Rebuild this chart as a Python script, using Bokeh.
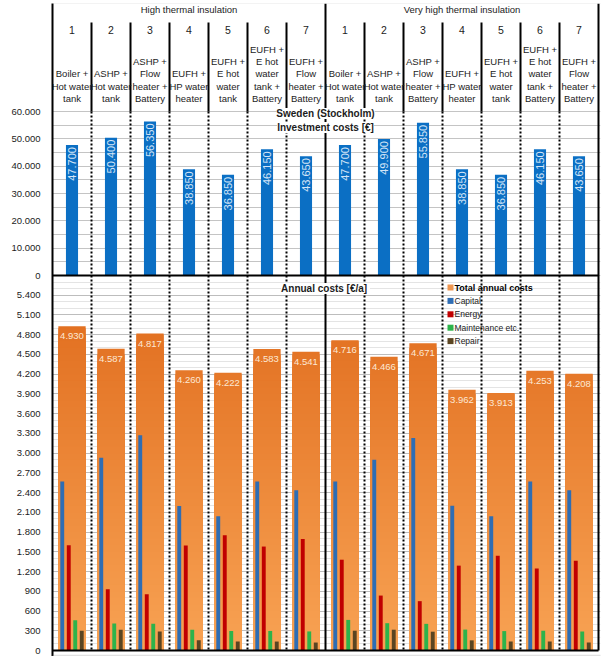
import numpy as np
from bokeh.plotting import figure
from bokeh.models import Range1d, LinearAxis, FixedTicker, Grid, ColumnDataSource, Label, BoxAnnotation
from bokeh.core.properties import value
from bokeh.transform import dodge
from bokeh.embed import file_html
from bokeh.resources import INLINE

# ---------------- data ----------------
group_titles = ["High thermal insulation", "Very high thermal insulation"]
variant_numbers = ["1", "2", "3", "4", "5", "6", "7"]
variant_labels = [
    ["Boiler +", "Hot water", "tank"],
    ["ASHP +", "Hot water", "tank"],
    ["ASHP +", "Flow", "heater +", "Battery"],
    ["EUFH +", "HP water", "heater"],
    ["EUFH +", "E hot", "water", "tank"],
    ["EUFH +", "E hot", "water", "tank +", "Battery"],
    ["EUFH +", "Flow", "heater +", "Battery"],
]
invest_high = [47700, 50400, 56350, 38850, 36850, 46150, 43650]
invest_very_high = [47700, 49900, 55850, 38850, 36850, 46150, 43650]
total_high = [4930, 4587, 4817, 4260, 4222, 4583, 4541]
total_very_high = [4716, 4466, 4671, 3962, 3913, 4253, 4208]
capital_high = [2570, 2930, 3270, 2195, 2040, 2570, 2435]
capital_very_high = [2570, 2900, 3230, 2200, 2040, 2570, 2435]
energy_high = [1600, 930, 855, 1595, 1750, 1580, 1695]
energy_very_high = [1380, 835, 750, 1290, 1440, 1245, 1365]
maintenance_high = [460, 410, 405, 315, 295, 297, 290]
maintenance_very_high = [465, 415, 405, 318, 295, 300, 287]
repair_high = [300, 317, 287, 155, 137, 136, 121]
repair_very_high = [301, 316, 286, 154, 138, 138, 121]
invest_ticks = [0, 10000, 20000, 30000, 40000, 50000, 60000]
annual_ticks = list(range(0, 5401, 300))
chart_title = "Sweden (Stockholm)"
invest_title = "Investment costs [€]"
annual_title = "Annual costs  [€/a]"
legend_labels = ["Total annual costs", "Capital", "Energy", "Maintenance etc.", "Repair"]

# ---------------- styling / layout ----------------
FONT = "Liberation Sans"
TXT = "#1c1c1c"
C_INV = "#0B6FC4"
C_CAP = "#2E6DB4"
C_EN = "#C00000"
C_MA = "#2DB34B"
C_RE = "#5A4522"
C_TOT_LEG = "#EE9650"
GRAD_BOTTOM = (248, 162, 84)
GRAD_TOP = (223, 106, 26)
FS = "9.5px"

W, H = 605, 656
FR_L, FR_R, FR_T, FR_B = 52, 600, 3, 656
ZERO_PX, SPLIT_PX, INV_TOP_PX = 650, 275, 111
COL_PX = 39
ANNUAL_TOP = 5700
INV_TICK_TOP = invest_ticks[-1]

upp_a = ANNUAL_TOP / (ZERO_PX - SPLIT_PX)
upp_i = INV_TICK_TOP / (SPLIT_PX - INV_TOP_PX)


def de(v):
    return f"{int(round(v)):,}".replace(",", ".")


p = figure(width=W, height=H,
           x_range=Range1d(0, (FR_R - FR_L) / COL_PX),
           y_range=Range1d(-(FR_B - ZERO_PX) * upp_a, (ZERO_PX - FR_T) * upp_a),
           x_axis_type=None, y_axis_type=None,
           output_backend="svg", toolbar_location=None,
           min_border_left=FR_L, min_border_right=W - FR_R,
           min_border_top=FR_T, min_border_bottom=H - FR_B)
p.extra_y_ranges = {
    "inv": Range1d(-(FR_B - SPLIT_PX) * upp_i, (SPLIT_PX - FR_T) * upp_i),
    "py": Range1d(FR_B, FR_T),
}
p.extra_x_ranges = {"px": Range1d(FR_L, FR_R)}
p.outline_line_color = None
p.background_fill_color = "white"
p.border_fill_color = "white"

n = len(variant_numbers)
ncol = 2 * n
xc = [i + 0.5 for i in range(ncol)]
invest = invest_high + invest_very_high
total = total_high + total_very_high
src = ColumnDataSource(dict(
    x=xc,
    invest=invest,
    invest_lbl=[de(v) for v in invest],
    total=total,
    total_lbl=[de(v) for v in total],
    capital=capital_high + capital_very_high,
    energy=energy_high + energy_very_high,
    maintenance=maintenance_high + maintenance_very_high,
    repair=repair_high + repair_very_high,
))

# ---------------- grids ----------------
minor_annual = [v for v in range(100, ANNUAL_TOP + 1, 100) if v % 300]
major_annual = list(range(300, ANNUAL_TOP + 1, 300))
inv_grid = list(range(5000, INV_TICK_TOP + 1, 5000))
p.add_layout(Grid(dimension=1, ticker=FixedTicker(ticks=minor_annual), grid_line_color="#E4E4E4", grid_line_width=1))
p.add_layout(Grid(dimension=1, ticker=FixedTicker(ticks=major_annual), grid_line_color="#BDBDBD", grid_line_width=1))
p.add_layout(Grid(dimension=1, y_range_name="inv", ticker=FixedTicker(ticks=inv_grid), grid_line_color="#C4C4C4", grid_line_width=1))

# ---------------- y axis (both panels share the left axis) ----------------
k = upp_a / upp_i
ticks, overrides = [], {}
for t in annual_ticks:
    ticks.append(t)
    overrides[t] = de(t)
for t in invest_ticks:
    pos = round(ANNUAL_TOP + t * k, 4)
    if float(pos).is_integer():
        pos = int(pos)
    ticks.append(pos)
    overrides[pos] = de(t)
yax = LinearAxis(ticker=FixedTicker(ticks=ticks, minor_ticks=[]), major_label_overrides=overrides,
                 axis_line_width=2, axis_line_color="black",
                 major_tick_line_color=None, major_tick_out=0, major_tick_in=0,
                 minor_tick_line_color=None, major_label_standoff=12,
                 major_label_text_font=FONT, major_label_text_font_size=FS,
                 major_label_text_color=TXT)
p.add_layout(yax, "left")

# ---------------- annual totals (vertical orange gradient) ----------------
STEP = 100
gx, gtop, gcol = [], [], []
for lvl in range(ANNUAL_TOP, 0, -STEP):
    f = (lvl - STEP / 2) / ANNUAL_TOP
    c = tuple(int(round(GRAD_BOTTOM[j] + (GRAD_TOP[j] - GRAD_BOTTOM[j]) * f)) for j in range(3))
    col = "#%02x%02x%02x" % c
    for x, tot in zip(xc, total):
        if tot > lvl - STEP:
            gx.append(x)
            gtop.append(min(tot, lvl))
            gcol.append(col)
p.vbar(x=gx, top=gtop, bottom=0, width=0.7, fill_color=gcol, line_color=None)

# components
for fld, off, col in [("capital", -0.25, C_CAP), ("energy", -0.083, C_EN),
                      ("maintenance", 0.083, C_MA), ("repair", 0.25, C_RE)]:
    p.vbar(x=dodge("x", off, range=p.x_range), top=fld, bottom=0, width=0.1,
           source=src, fill_color=col, line_color=None)

p.text(x="x", y="total", text="total_lbl", source=src, text_align="center", text_baseline="top",
       y_offset=7, text_font=value(FONT), text_font_size=FS, text_color="#FDE8D4")

# ---------------- investment bars ----------------
p.vbar(x="x", top="invest", bottom=0, width=0.31, source=src, y_range_name="inv",
       fill_color=C_INV, line_color=None)
p.text(x="x", y="invest", text="invest_lbl", source=src, y_range_name="inv", angle=np.pi / 2,
       text_align="right", text_baseline="middle", y_offset=2,
       text_font=value(FONT), text_font_size="11px", text_color="#D4E5F7")

# ---------------- structure lines ----------------
inner = [i for i in range(1, ncol) if i != n]
p.segment(x0=inner, x1=inner, y0=[INV_TOP_PX] * len(inner), y1=[ZERO_PX] * len(inner),
          y_range_name="py", line_color="black", line_width=2, line_dash="2 2")
p.segment(x0=inner, x1=inner, y0=[22] * len(inner), y1=[INV_TOP_PX] * len(inner),
          y_range_name="py", line_color="black", line_width=2)
p.segment(x0=[n, ncol], x1=[n, ncol], y0=[FR_T, FR_T], y1=[ZERO_PX, ZERO_PX],
          y_range_name="py", line_color="black", line_width=2)
p.segment(x0=[0, 0], x1=[ncol, ncol], y0=[SPLIT_PX, ZERO_PX], y1=[SPLIT_PX, ZERO_PX],
          y_range_name="py", line_color="black", line_width=2)

# ---------------- header ----------------
p.text(x=[n / 2, n + n / 2], y=[9, 9], text=group_titles, y_range_name="py",
       text_align="center", text_baseline="middle", text_font=value(FONT),
       text_font_size=FS, text_color=TXT)
p.text(x=xc, y=[29] * ncol, text=variant_numbers * 2, y_range_name="py",
       text_align="center", text_baseline="middle", text_font=value(FONT),
       text_font_size="10.5px", text_color=TXT)
lx, ly, lt = [], [], []
LINE_H = 12.3
for i, x in enumerate(xc):
    lines = variant_labels[i % n]
    for j, s in enumerate(lines):
        lx.append(x)
        ly.append(98 - (len(lines) - 1 - j) * LINE_H)
        lt.append(s)
p.text(x=lx, y=ly, text=lt, y_range_name="py", text_align="center", text_baseline="middle",
       text_font=value(FONT), text_font_size=FS, text_color=TXT)

# ---------------- titles ----------------
for txt, yy in [(chart_title, 113), (invest_title, 127), (annual_title, 288)]:
    p.add_layout(Label(x=n, y=yy, y_range_name="py", text=txt, text_align="center",
                       text_baseline="middle", text_font=FONT, text_font_size="10px",
                       text_font_style="bold", text_color=TXT,
                       background_fill_color="white", background_fill_alpha=1.0))

# ---------------- legend ----------------
LEG_X, LEG_Y0, LEG_DY = 450, 287, 13.4
leg_cols = [C_TOT_LEG, C_CAP, C_EN, C_MA, C_RE]
leg_y = [LEG_Y0 + i * LEG_DY for i in range(len(legend_labels))]
p.scatter(x=[LEG_X] * len(legend_labels), y=leg_y, marker="square", size=6,
          fill_color=leg_cols, line_color=None, x_range_name="px", y_range_name="py")
p.text(x=[LEG_X + 4], y=leg_y[:1], text=legend_labels[:1], x_range_name="px", y_range_name="py",
       text_align="left", text_baseline="middle", text_font=value(FONT), text_font_size="9px",
       text_font_style="bold", text_color="black")
p.text(x=[LEG_X + 4] * (len(legend_labels) - 1), y=leg_y[1:], text=legend_labels[1:],
       x_range_name="px", y_range_name="py", text_align="left", text_baseline="middle",
       text_font=value(FONT), text_font_size="8.5px", text_color=TXT)

# ---------------- outer frame ----------------
p.add_layout(BoxAnnotation(left=2.5, right=W - 1, top=2.5, bottom=H - 1,
                           left_units="canvas", right_units="canvas",
                           top_units="canvas", bottom_units="canvas",
                           fill_color=None, fill_alpha=0, line_color="#9A9A9A", line_width=1.5,
                           level="overlay"))

open("out.html", "w").write(file_html(p, INLINE))
